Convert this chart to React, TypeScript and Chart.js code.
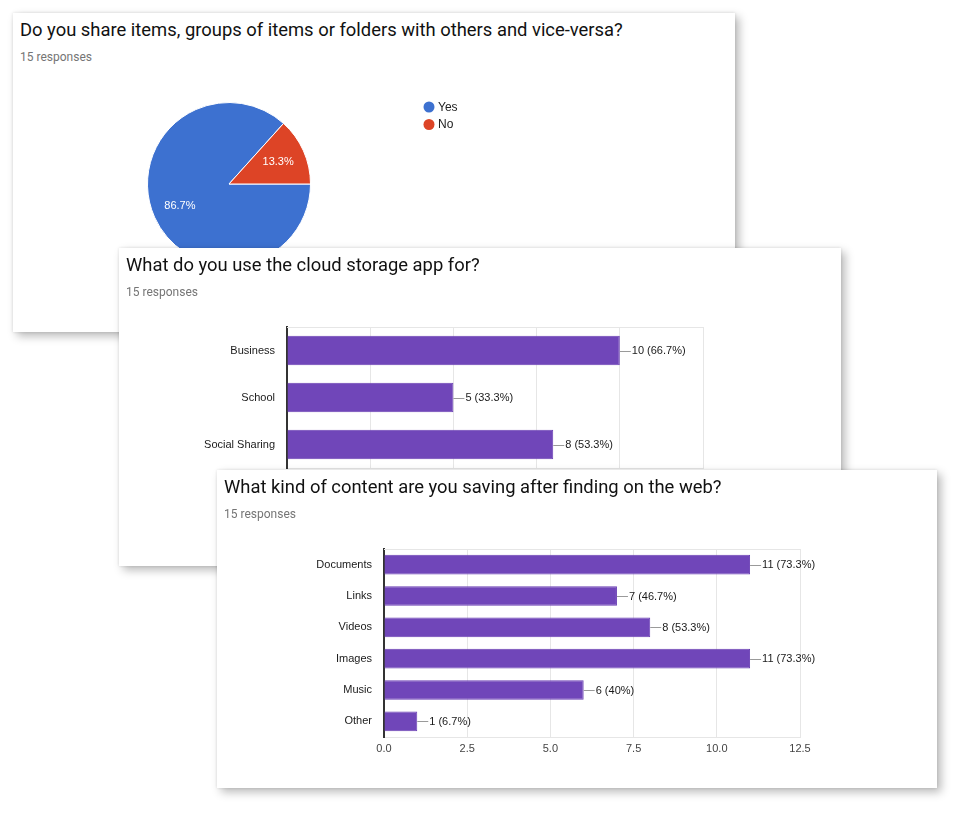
import React, { useEffect, useRef } from 'react';
import { Chart, registerables } from 'chart.js';

Chart.register(...registerables);

// ---------- data ----------
const responses = 15;

const pieTitle = 'Do you share items, groups of items or folders with others and vice-versa?';
const pieLabels = ['Yes', 'No'];
const pieValues = [13, 2];
const pieColors = ['#3d71d0', '#dd4426'];

const useTitle = 'What do you use the cloud storage app for?';
const useLabels = ['Business', 'School', 'Social Sharing'];
const useValues = [10, 5, 8];

const contentTitle = 'What kind of content are you saving after finding on the web?';
const contentLabels = ['Documents', 'Links', 'Videos', 'Images', 'Music', 'Other'];
const contentValues = [11, 7, 8, 11, 6, 1];

const xMin = 0;
const xMax = 12.5;
const xStep = 2.5;

const barColor = '#7046b9';
const barBorder = '#6a3fb4';
const gridColor = '#e6e6e6';
const labelFont = '"Liberation Sans", Arial, sans-serif';

function pct(v: number): string {
  const p = Math.round((v / responses) * 1000) / 10;
  return (Number.isInteger(p) ? p.toFixed(0) : p.toFixed(1)) + '%';
}

// ---------- plugins ----------
const barValueLabels = {
  id: 'barValueLabels',
  afterDatasetsDraw(chart: any) {
    const ctx = chart.ctx;
    const meta = chart.getDatasetMeta(0);
    const data = chart.data.datasets[0].data as number[];
    ctx.save();
    meta.data.forEach((bar: any, i: number) => {
      const v = data[i];
      const x = bar.x;
      const y = Math.round(bar.y) + 0.5;
      ctx.strokeStyle = '#9a9a9a';
      ctx.lineWidth = 1;
      ctx.beginPath();
      ctx.moveTo(x, y);
      ctx.lineTo(x + 11, y);
      ctx.stroke();
      ctx.fillStyle = '#1a1a1a';
      ctx.font = `11px ${labelFont}`;
      ctx.textBaseline = 'middle';
      ctx.textAlign = 'left';
      ctx.fillText(`${v} (${pct(v)})`, x + 12, bar.y + 0.5);
    });
    ctx.restore();
  },
};

const plotTopLine = {
  id: 'plotTopLine',
  beforeDatasetsDraw(chart: any) {
    const { ctx, chartArea } = chart;
    ctx.save();
    ctx.strokeStyle = gridColor;
    ctx.lineWidth = 1;
    ctx.beginPath();
    ctx.moveTo(chartArea.left, Math.round(chartArea.top) + 0.5);
    ctx.lineTo(chartArea.right, Math.round(chartArea.top) + 0.5);
    ctx.stroke();
    ctx.restore();
  },
};

const pieExtras = {
  id: 'pieExtras',
  afterDatasetsDraw(chart: any) {
    const ctx = chart.ctx;
    const meta = chart.getDatasetMeta(0);
    const data = chart.data.datasets[0].data as number[];
    ctx.save();
    ctx.font = `11px ${labelFont}`;
    ctx.fillStyle = '#fff';
    ctx.textAlign = 'center';
    ctx.textBaseline = 'middle';
    meta.data.forEach((arc: any, i: number) => {
      const { x, y, startAngle, endAngle, outerRadius } = arc.getProps(
        ['x', 'y', 'startAngle', 'endAngle', 'outerRadius'],
        true
      );
      const mid = (startAngle + endAngle) / 2;
      const r = outerRadius * 0.66;
      ctx.fillText(pct(data[i]), x + Math.cos(mid) * r, y + Math.sin(mid) * r);
    });
    // legend
    const labels = chart.data.labels as string[];
    const colors = chart.data.datasets[0].backgroundColor as string[];
    ctx.font = `12px ${labelFont}`;
    ctx.textAlign = 'left';
    labels.forEach((lab, i) => {
      const cy = 37 + i * 17.5;
      ctx.fillStyle = colors[i];
      ctx.beginPath();
      ctx.arc(416, cy, 5.5, 0, Math.PI * 2);
      ctx.fill();
      ctx.fillStyle = '#222';
      ctx.fillText(lab, 425, cy + 0.5);
    });
    ctx.restore();
  },
};

// ---------- components ----------
function PieChart() {
  const ref = useRef<HTMLCanvasElement>(null);
  useEffect(() => {
    const chart = new Chart(ref.current!, {
      type: 'pie',
      data: {
        labels: pieLabels,
        datasets: [
          {
            data: pieValues,
            backgroundColor: pieColors,
            borderColor: '#ffffff',
            borderWidth: 1,
          },
        ],
      },
      options: {
        responsive: false,
        animation: false,
        rotation: 90,
        layout: { padding: { left: 134, top: 32, right: 424, bottom: 34 } },
        plugins: { legend: { display: false }, tooltip: { enabled: false } },
      },
      plugins: [pieExtras],
    });
    return () => chart.destroy();
  }, []);
  return (
    <canvas
      ref={ref}
      width={722}
      height={230}
      style={{ position: 'absolute', left: 0, top: 57, width: 722, height: 230 }}
    />
  );
}

function BarChart(props: {
  labels: string[];
  values: number[];
  width: number;
  height: number;
  top: number;
  axisWidth: number;
  padding: { top: number; right: number; bottom: number };
}) {
  const ref = useRef<HTMLCanvasElement>(null);
  useEffect(() => {
    const chart = new Chart(ref.current!, {
      type: 'bar',
      data: {
        labels: props.labels,
        datasets: [
          {
            data: props.values,
            backgroundColor: barColor,
            borderColor: barBorder,
            borderWidth: 1,
            categoryPercentage: 1,
            barPercentage: 0.63,
          },
        ],
      },
      options: {
        indexAxis: 'y',
        responsive: false,
        animation: false,
        layout: { padding: { left: 0, ...props.padding } },
        plugins: { legend: { display: false }, tooltip: { enabled: false } },
        scales: {
          x: {
            min: xMin,
            max: xMax,
            ticks: {
              stepSize: xStep,
              padding: 5,
              color: '#444',
              font: { family: labelFont, size: 11 },
              callback: (v: any) => Number(v).toFixed(1),
            },
            grid: { color: gridColor, drawTicks: false },
            border: { color: gridColor },
            afterFit: (axis: any) => {
              axis.height = 30;
            },
          },
          y: {
            ticks: {
              padding: 12,
              color: '#1a1a1a',
              font: { family: labelFont, size: 11 },
            },
            grid: { display: false, drawTicks: false },
            border: { display: true, color: '#333', width: 2 },
            afterFit: (axis: any) => {
              axis.width = props.axisWidth;
            },
          },
        },
      },
      plugins: [plotTopLine, barValueLabels],
    });
    return () => chart.destroy();
  }, []);
  return (
    <canvas
      ref={ref}
      width={props.width}
      height={props.height}
      style={{
        position: 'absolute',
        left: 0,
        top: props.top,
        width: props.width,
        height: props.height,
      }}
    />
  );
}

function Card(props: {
  left: number;
  top: number;
  width: number;
  height: number;
  title: string;
  children: React.ReactNode;
}) {
  return (
    <div
      style={{
        position: 'absolute',
        left: props.left,
        top: props.top,
        width: props.width,
        height: props.height,
        background: '#fff',
        boxShadow: '0 0 3px rgba(0,0,0,0.12), 4px 4px 9px rgba(0,0,0,0.28)',
        overflow: 'hidden',
      }}
    >
      <div
        style={{
          position: 'absolute',
          left: 7,
          top: 6,
          fontFamily: 'Roboto, "Noto Sans", sans-serif',
          fontSize: 18.4,
          lineHeight: '22px',
          color: '#111',
          whiteSpace: 'nowrap',
        }}
      >
        {props.title}
      </div>
      <div
        style={{
          position: 'absolute',
          left: 7,
          top: 36,
          fontFamily: 'Roboto, "Noto Sans", sans-serif',
          fontSize: 12,
          lineHeight: '16px',
          color: '#757575',
          whiteSpace: 'nowrap',
        }}
      >
        {responses} responses
      </div>
      {props.children}
    </div>
  );
}

export default function App() {
  return (
    <div
      style={{
        position: 'fixed',
        left: 0,
        top: 0,
        width: 962,
        height: 815,
        background: '#fff',
        overflow: 'hidden',
      }}
    >
      <Card left={13} top={13} width={722} height={319} title={pieTitle}>
        <PieChart />
      </Card>
      <Card left={119} top={248} width={722} height={318} title={useTitle}>
        <BarChart
          labels={useLabels}
          values={useValues}
          width={722}
          height={230}
          top={52}
          axisWidth={168}
          padding={{ top: 27, right: 138, bottom: 32 }}
        />
      </Card>
      <Card left={217} top={470} width={720} height={318} title={contentTitle}>
        <BarChart
          labels={contentLabels}
          values={contentValues}
          width={720}
          height={250}
          top={60}
          axisWidth={167}
          padding={{ top: 19, right: 137, bottom: 13 }}
        />
      </Card>
    </div>
  );
}
